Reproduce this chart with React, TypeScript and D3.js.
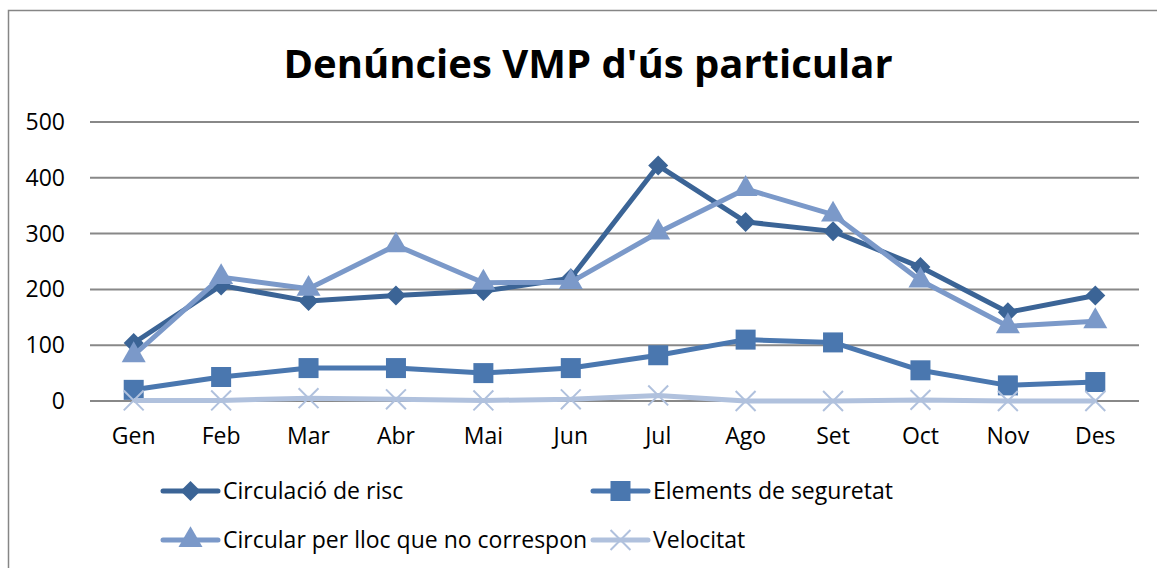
import React, { useEffect, useRef } from "react";
import * as d3 from "d3";

/* DATA */
const months = ["Gen", "Feb", "Mar", "Abr", "Mai", "Jun", "Jul", "Ago", "Set", "Oct", "Nov", "Des"];
const circulacioRisc = [104, 207, 179, 189, 197, 220, 422, 321, 304, 240, 159, 189];
const elementsSeguretat = [20, 43, 59, 59, 50, 59, 82, 110, 105, 55, 28, 34];
const circularLloc = [82, 222, 201, 279, 212, 213, 302, 380, 334, 216, 134, 143];
const velocitat = [1, 1, 5, 3, 1, 3, 10, 0, 0, 2, 0, 0];
const yTicks = [0, 100, 200, 300, 400, 500];

const series = [
  { name: "Circulació de risc", values: circulacioRisc, color: "#3B6496", marker: "diamond" },
  { name: "Elements de seguretat", values: elementsSeguretat, color: "#4A77AF", marker: "square" },
  { name: "Circular per lloc que no correspon", values: circularLloc, color: "#7B99C9", marker: "triangle" },
  { name: "Velocitat", values: velocitat, color: "#B0C1DD", marker: "x" },
];

const W = 1157;
const H = 568;
const margin = { top: 122, bottom: 167, left: 90, right: 18 };
const FONT = "'Open Sans', 'Noto Sans', sans-serif";
const FS = 23;

function drawMarker(g: any, type: string, x: number, y: number, color: string) {
  if (type === "diamond") {
    g.append("path")
      .attr("d", d3.symbol().type(d3.symbolSquare).size(200)())
      .attr("transform", `translate(${x},${y}) rotate(45)`)
      .attr("fill", color);
  } else if (type === "square") {
    g.append("path")
      .attr("d", d3.symbol().type(d3.symbolSquare).size(400)())
      .attr("transform", `translate(${x},${y})`)
      .attr("fill", color);
  } else if (type === "triangle") {
    g.append("path")
      .attr("d", d3.symbol().type(d3.symbolTriangle).size(250)())
      .attr("transform", `translate(${x},${y})`)
      .attr("fill", color);
  } else {
    g.append("path")
      .attr("d", d3.symbol().type(d3.symbolX).size(260)())
      .attr("transform", `translate(${x},${y})`)
      .attr("fill", "none")
      .attr("stroke", color)
      .attr("stroke-width", 2);
  }
}

function LineChart() {
  const chartRef = useRef(null);

  useEffect(() => {
    const svg = d3.select(chartRef.current);
    svg.selectAll("*").remove();

    const x = d3
      .scalePoint()
      .domain(months)
      .range([margin.left, W - margin.right])
      .padding(0.5);

    const y = d3
      .scaleLinear()
      .domain([0, 500])
      .range([H - margin.bottom, margin.top]);

    // chart frame
    svg
      .append("rect")
      .attr("x", 8.5)
      .attr("y", 10.5)
      .attr("width", 1160)
      .attr("height", 580)
      .attr("fill", "#fff")
      .attr("stroke", "#868686")
      .attr("stroke-width", 1.5);

    // title
    svg
      .append("text")
      .attr("x", 588)
      .attr("y", 78)
      .attr("text-anchor", "middle")
      .attr("font-family", FONT)
      .attr("font-weight", "bold")
      .attr("font-size", 40)
      .text("Denúncies VMP d'ús particular");

    // grid + y labels
    const grid = svg.append("g");
    grid
      .selectAll("line")
      .data(yTicks)
      .enter()
      .append("line")
      .attr("x1", margin.left)
      .attr("x2", W - margin.right)
      .attr("y1", (d) => y(d))
      .attr("y2", (d) => y(d))
      .attr("stroke", "#888")
      .attr("stroke-width", 2);

    grid
      .selectAll("text")
      .data(yTicks)
      .enter()
      .append("text")
      .attr("x", 65)
      .attr("y", (d) => y(d))
      .attr("dy", "0.35em")
      .attr("text-anchor", "end")
      .attr("font-family", FONT)
      .attr("font-size", FS)
      .text((d) => d);

    // x labels
    svg
      .append("g")
      .selectAll("text")
      .data(months)
      .enter()
      .append("text")
      .attr("x", (d) => x(d) as number)
      .attr("y", 444)
      .attr("text-anchor", "middle")
      .attr("font-family", FONT)
      .attr("font-size", FS)
      .text((d) => d);

    const line = d3
      .line<number>()
      .x((d, i) => x(months[i]) as number)
      .y((d) => y(d));

    series.forEach((s) => {
      const g = svg.append("g");
      g.append("path")
        .datum(s.values)
        .attr("d", line)
        .attr("fill", "none")
        .attr("stroke", s.color)
        .attr("stroke-width", 5)
        .attr("stroke-linejoin", "round");
      s.values.forEach((v, i) => drawMarker(g, s.marker, x(months[i]) as number, y(v), s.color));
    });

    // legend
    const legendPos = [
      { x: 163, y: 491 },
      { x: 593, y: 491 },
      { x: 163, y: 540 },
      { x: 593, y: 540 },
    ];
    series.forEach((s, i) => {
      const p = legendPos[i];
      const g = svg.append("g");
      g.append("line")
        .attr("x1", p.x)
        .attr("x2", p.x + 55)
        .attr("y1", p.y)
        .attr("y2", p.y)
        .attr("stroke", s.color)
        .attr("stroke-width", 5)
        .attr("stroke-linecap", "round");
      drawMarker(g, s.marker, p.x + 27.5, p.y, s.color);
      g.append("text")
        .attr("x", p.x + 60)
        .attr("y", p.y)
        .attr("dy", "0.35em")
        .attr("font-family", FONT)
        .attr("font-size", FS)
        .text(s.name);
    });
  }, []);

  return <svg ref={chartRef} width={W} height={H} style={{ position: "absolute", left: 0, top: 0 }} />;
}

export default function App() {
  return <LineChart />;
}
